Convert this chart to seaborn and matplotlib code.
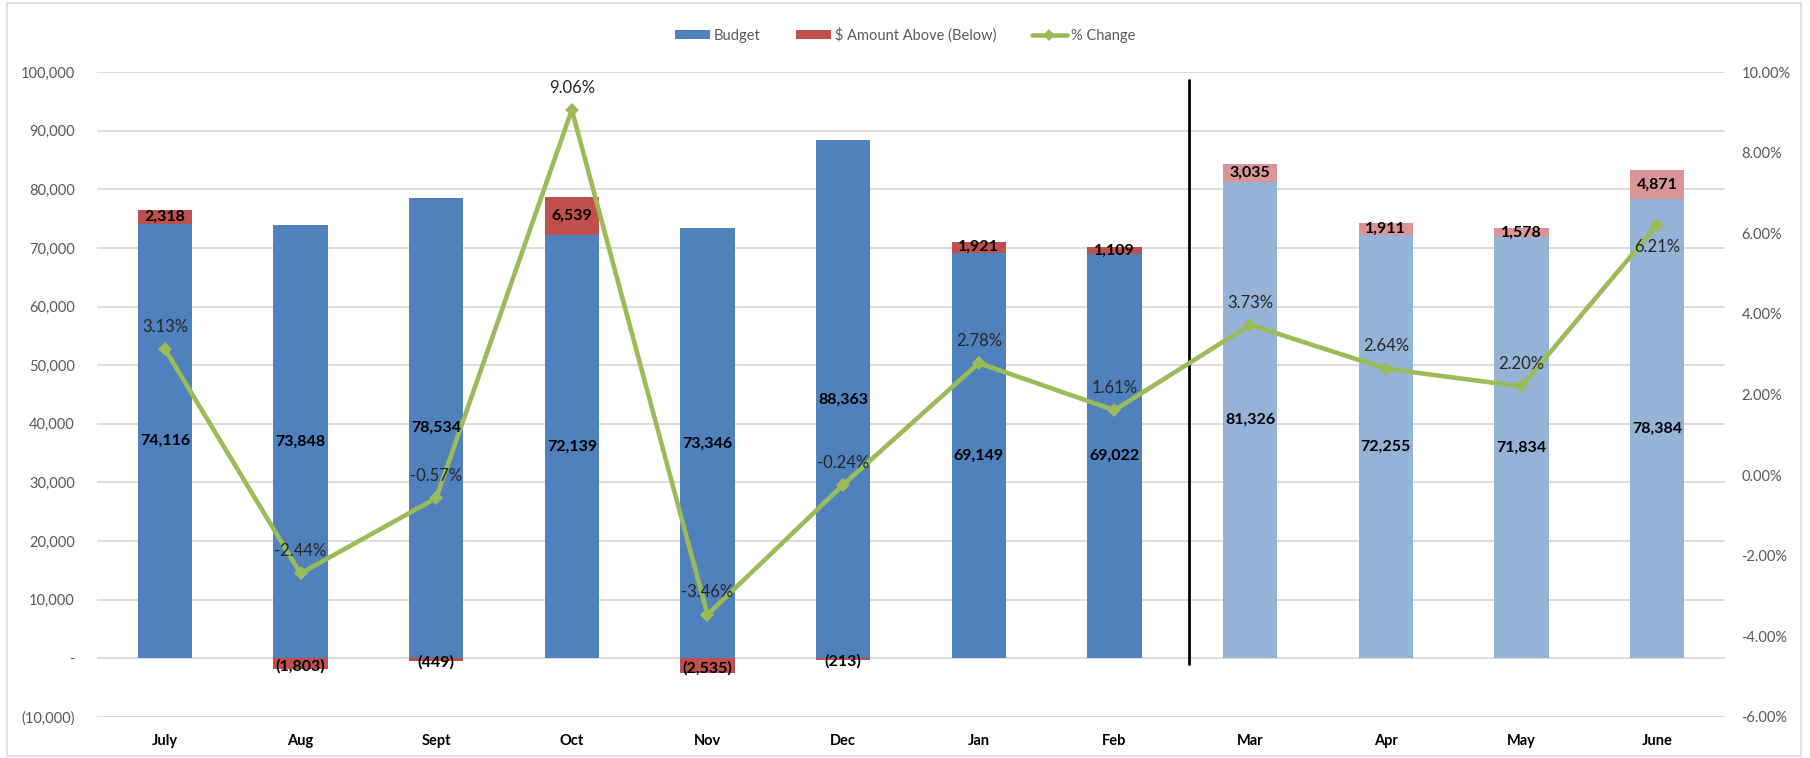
import numpy as np
import matplotlib
matplotlib.use("Agg")
import matplotlib.pyplot as plt
import seaborn as sns
from matplotlib.lines import Line2D
from matplotlib.patches import Patch, Rectangle
from matplotlib.ticker import FuncFormatter

# Monthly budget vs. actual data
months = ["July", "Aug", "Sept", "Oct", "Nov", "Dec", "Jan", "Feb", "Mar", "Apr", "May", "June"]
budget = [74116, 73848, 78534, 72139, 73346, 88363, 69149, 69022, 81326, 72255, 71834, 78384]
above_below = [2318, -1803, -449, 6539, -2535, -213, 1921, 1109, 3035, 1911, 1578, 4871]
pct_change = [3.13, -2.44, -0.57, 9.06, -3.46, -0.24, 2.78, 1.61, 3.73, 2.64, 2.20, 6.21]
n_actual = 8  # July..Feb are actuals, Mar..June are projections
pct_label_below = ["June"]  # % labels placed under the marker instead of above

BLUE, BLUE_LIGHT = "#4F81BD", "#95B3D7"
RED, RED_LIGHT = "#C0504D", "#D99694"
GREEN = "#9BBB59"
GRID = "#D9D9D9"
TICK = "#595959"

sns.set_style("white")
plt.rcParams["font.family"] = ["Lato", "DejaVu Sans"]

blues = [BLUE] * n_actual + [BLUE_LIGHT] * (len(months) - n_actual)
reds = [RED] * n_actual + [RED_LIGHT] * (len(months) - n_actual)

fig = plt.figure(figsize=(18.10, 7.58), dpi=100)
ax = fig.add_axes([0.0536, 0.0541, 0.8994, 0.8509])

# Budget columns
sns.barplot(x=months, y=budget, hue=months, order=months, hue_order=months,
            palette=blues, width=0.4, saturation=1, legend=False,
            linewidth=0, ax=ax)

# Amount above/below stacked on the budget column (negatives hang below zero)
pos = np.arange(len(months))
bottoms = [b if a > 0 else 0 for b, a in zip(budget, above_below)]
ax.bar(pos, above_below, bottom=bottoms, width=0.4, color=reds, linewidth=0, zorder=2)

# Divider between actual and projected months
ax.plot([n_actual - 0.45, n_actual - 0.45], [-1000, 98700], color="black", lw=2, zorder=3)

ax.set_xlim(-0.5, len(months) - 0.5)
ax.set_ylim(-10000, 100000)
ax.set_yticks(np.arange(-10000, 100001, 10000))


def money_fmt(v, _):
    if v == 0:
        return "-"
    if v < 0:
        return f"({abs(v):,.0f})"
    return f"{v:,.0f}"


ax.yaxis.set_major_formatter(FuncFormatter(money_fmt))
ax.set_axisbelow(True)
ax.yaxis.grid(True, color=GRID, lw=1.3)
ax.xaxis.grid(False)
ax.tick_params(axis="y", length=0, pad=16, labelsize=10.5, labelcolor=TICK)
ax.tick_params(axis="x", length=0, pad=12, labelsize=10.5, labelcolor="black")
for lbl in ax.get_xticklabels():
    lbl.set_fontweight("bold")
ax.set_xlabel("")
ax.set_ylabel("")
for s in ax.spines.values():
    s.set_visible(False)

# % change line on the secondary axis
ax2 = ax.twinx()
sns.lineplot(x=pos, y=np.array(pct_change) / 100, ax=ax2, color=GREEN, lw=3.3,
             marker="D", markersize=7, markeredgewidth=0, markerfacecolor=GREEN)
ax2.set_ylim(-0.06, 0.10)
ax2.set_yticks(np.arange(-0.06, 0.1001, 0.02))
ax2.yaxis.set_major_formatter(FuncFormatter(lambda v, _: f"{v * 100:.2f}%"))
ax2.tick_params(axis="y", length=0, pad=12, labelsize=10.5, labelcolor=TICK)
ax2.grid(False)
ax2.set_ylabel("")
for s in ax2.spines.values():
    s.set_visible(False)
ax.set_xlim(-0.5, len(months) - 0.5)

# Data labels
for i, (m, b, a, p) in enumerate(zip(months, budget, above_below, pct_change)):
    ax2.text(i, b / 2, f"{b:,}", transform=ax.transData, ha="center", va="center",
             fontsize=11.5, fontweight="bold", color="black", zorder=5)
    if a > 0:
        ay = b + a / 2
        atxt = f"{a:,}"
    else:
        ay = a / 2 - 400
        atxt = f"({abs(a):,})"
    ax2.text(i, ay, atxt, transform=ax.transData, ha="center", va="center",
             fontsize=11.5, fontweight="bold", color="black", zorder=5)
    dy = -16 if m in pct_label_below else 16
    ax2.annotate(f"{p:.2f}%", (i, p / 100), xytext=(0, dy), textcoords="offset points",
                 ha="center", va="center", fontsize=12, color="#262626", zorder=5)

# Legend
handles = [Patch(facecolor=BLUE, edgecolor="none"),
           Patch(facecolor=RED, edgecolor="none"),
           Line2D([0], [0], color=GREEN, lw=3.3, marker="D", markersize=6,
                  markeredgewidth=0)]
leg = fig.legend(handles, ["Budget", "$ Amount Above (Below)", "% Change"],
                 loc="center", bbox_to_anchor=(0.5, 0.954), ncol=3, frameon=False,
                 fontsize=10.5, handlelength=2.4, handleheight=0.6,
                 columnspacing=2.4, handletextpad=0.3)
for t in leg.get_texts():
    t.set_color(TICK)

# Chart border
fig.patches.append(Rectangle((0.004, 0.003), 0.991, 0.993, transform=fig.transFigure,
                             fill=False, edgecolor=GRID, lw=1.2))

fig.savefig("out.png", dpi=100)
